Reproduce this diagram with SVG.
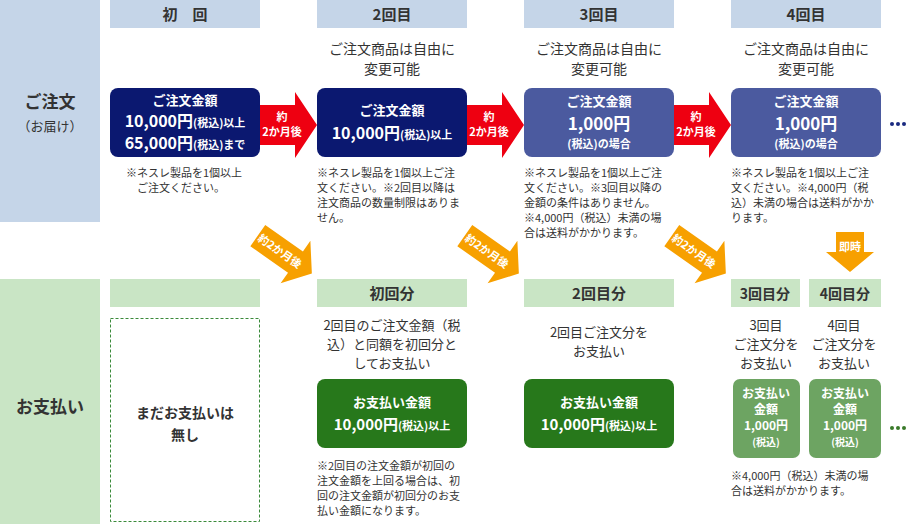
<svg xmlns="http://www.w3.org/2000/svg" width="909" height="524" viewBox="0 0 909 524">
<style>
text{font-family:"Noto Sans CJK JP","Noto Sans",sans-serif;text-anchor:middle}
.hb{fill:#c5d5e8}.hg{fill:#c9e5c5}
.ht{font-size:15px;font-weight:bold;fill:#333}
.d{font-size:14px;fill:#333}
.n{font-size:11px;fill:#333;text-anchor:start}
.w{fill:#fff;font-weight:bold}
.ra{fill:#ee0011}.oa{fill:#f7a000}
</style>
<defs>
<polygon id="ra" points="0,-20 35,-20 35,-33 57,0 35,33 35,20 0,20"/>
<polygon id="oa" points="-32,-13 14,-13 14,-26 34,0 14,26 14,13 -32,13"/>
</defs>
<rect x="0" y="0" width="100" height="222" class="hb"/>
<rect x="0" y="279" width="100" height="245" class="hg"/>
<text x="50" y="108" style="font-size:17px;font-weight:bold;fill:#333">ご注文</text>
<text x="50" y="131" style="font-size:13px;fill:#333">（お届け）</text>
<text x="50" y="413" style="font-size:17px;font-weight:bold;fill:#333">お支払い</text>

<g id="headers">
<rect x="110" y="0" width="150" height="28" class="hb"/><text x="185" y="20" class="ht">初　回</text>
<rect x="317" y="0" width="150" height="28" class="hb"/><text x="392" y="20" class="ht">2回目</text>
<rect x="524" y="0" width="150" height="28" class="hb"/><text x="599" y="20" class="ht">3回目</text>
<rect x="731" y="0" width="150" height="28" class="hb"/><text x="806" y="20" class="ht">4回目</text>
<rect x="110" y="279" width="150" height="28" class="hg"/>
<rect x="317" y="279" width="150" height="28" class="hg"/><text x="392" y="299" class="ht">初回分</text>
<rect x="524" y="279" width="150" height="28" class="hg"/><text x="599" y="299" class="ht">2回目分</text>
<rect x="731" y="279" width="69" height="28" class="hg"/><text x="765" y="299" class="ht" style="font-size:14px">3回目分</text>
<rect x="809" y="279" width="72" height="28" class="hg"/><text x="845" y="299" class="ht" style="font-size:14px">4回目分</text>
</g>

<g id="desc">
<text x="392" y="54" class="d">ご注文商品は自由に</text><text x="392" y="74" class="d">変更可能</text>
<text x="599" y="54" class="d">ご注文商品は自由に</text><text x="599" y="74" class="d">変更可能</text>
<text x="806" y="54" class="d">ご注文商品は自由に</text><text x="806" y="74" class="d">変更可能</text>
</g>

<g id="o1"><rect x="110" y="88" width="150" height="69" rx="8" fill="#0b1870"/>
<text x="185" y="105" class="w" style="font-size:13px">ご注文金額</text>
<text x="185" y="127" class="w" style="font-size:16px">10,000円<tspan style="font-size:11px">(税込)以上</tspan></text>
<text x="185" y="149" class="w" style="font-size:16px">65,000円<tspan style="font-size:11px">(税込)まで</tspan></text></g>
<g id="o2"><rect x="317" y="88" width="150" height="69" rx="8" fill="#0b1870"/>
<text x="392" y="115" class="w" style="font-size:13px">ご注文金額</text>
<text x="392" y="139" class="w" style="font-size:16px">10,000円<tspan style="font-size:11px">(税込)以上</tspan></text></g>
<g id="o3"><rect x="524" y="88" width="150" height="69" rx="8" fill="#4b5a9f"/>
<text x="599" y="106" class="w" style="font-size:13px">ご注文金額</text>
<text x="599" y="130" class="w" style="font-size:17px">1,000円</text>
<text x="599" y="148" class="w" style="font-size:11px">(税込)の場合</text></g>
<g id="o4"><rect x="731" y="88" width="150" height="69" rx="8" fill="#4b5a9f"/>
<text x="806" y="106" class="w" style="font-size:13px">ご注文金額</text>
<text x="806" y="130" class="w" style="font-size:17px">1,000円</text>
<text x="806" y="148" class="w" style="font-size:11px">(税込)の場合</text></g>
<g fill="#1a2a80"><circle cx="892" cy="124" r="2"/><circle cx="898" cy="124" r="2"/><circle cx="904" cy="124" r="2"/></g>

<g id="notes">
<text class="n" x="126" y="177">※ネスレ製品を1個以上</text><text class="n" x="137" y="192">ご注文ください。</text>
<text class="n" x="317" y="177">※ネスレ製品を1個以上ご注</text><text class="n" x="317" y="192">文ください。※2回目以降は</text><text class="n" x="317" y="207">注文商品の数量制限はありま</text><text class="n" x="317" y="222">せん。</text>
<text class="n" x="524" y="177">※ネスレ製品を1個以上ご注</text><text class="n" x="524" y="192">文ください。※3回目以降の</text><text class="n" x="524" y="207">金額の条件はありません。</text><text class="n" x="524" y="222">※4,000円（税込）未満の場</text><text class="n" x="524" y="237">合は送料がかかります。</text>
<text class="n" x="731" y="177">※ネスレ製品を1個以上ご注</text><text class="n" x="731" y="192">文ください。※4,000円（税</text><text class="n" x="731" y="207">込）未満の場合は送料がかか</text><text class="n" x="731" y="222">ります。</text>
</g>

<g id="connectors">
<use href="#ra" class="ra" x="260" y="125"/><text x="282" y="121" class="w" style="font-size:11px">約</text><text x="282" y="136" class="w" style="font-size:11px">2か月後</text>
<use href="#ra" class="ra" x="467" y="125"/><text x="489" y="121" class="w" style="font-size:11px">約</text><text x="489" y="136" class="w" style="font-size:11px">2か月後</text>
<use href="#ra" class="ra" x="674" y="125"/><text x="696" y="121" class="w" style="font-size:11px">約</text><text x="696" y="136" class="w" style="font-size:11px">2か月後</text>
<g transform="translate(284,254) rotate(35)"><use href="#oa" class="oa"/><text x="-5" y="4" class="w" style="font-size:11px">約2か月後</text></g>
<g transform="translate(491,254) rotate(35)"><use href="#oa" class="oa"/><text x="-5" y="4" class="w" style="font-size:11px">約2か月後</text></g>
<g transform="translate(698,254) rotate(35)"><use href="#oa" class="oa"/><text x="-5" y="4" class="w" style="font-size:11px">約2か月後</text></g>
<polygon points="836,232 864,232 864,252 874,252 850,272 826,252 836,252" class="oa"/>
<text x="850" y="251" class="w" style="font-size:11px">即時</text>
</g>

<g id="p1"><rect x="110.5" y="318.5" width="149" height="203" fill="none" stroke="#3a8a3a" stroke-dasharray="3,2"/>
<text x="185" y="418" style="font-size:14px;font-weight:bold;fill:#333">まだお支払いは</text><text x="185" y="440" style="font-size:14px;font-weight:bold;fill:#333">無し</text></g>

<text x="392" y="330" class="d" style="font-size:13px">2回目のご注文金額（税</text><text x="392" y="349" class="d" style="font-size:13px">込）と同額を初回分と</text><text x="392" y="368" class="d" style="font-size:13px">してお支払い</text>
<text x="599" y="337" class="d" style="font-size:13px">2回目ご注文分を</text><text x="599" y="356" class="d" style="font-size:13px">お支払い</text>
<text x="766" y="330" class="d" style="font-size:13px">3回目</text><text x="766" y="349" class="d" style="font-size:13px">ご注文分を</text><text x="766" y="368" class="d" style="font-size:13px">お支払い</text>
<text x="844" y="330" class="d" style="font-size:13px">4回目</text><text x="844" y="349" class="d" style="font-size:13px">ご注文分を</text><text x="844" y="368" class="d" style="font-size:13px">お支払い</text>

<g id="p2"><rect x="317" y="379" width="150" height="69" rx="8" fill="#27781b"/>
<text x="392" y="407" class="w" style="font-size:13px">お支払い金額</text>
<text x="392" y="430" class="w" style="font-size:15px">10,000円<tspan style="font-size:11px">(税込)以上</tspan></text></g>
<g id="p3"><rect x="524" y="379" width="150" height="69" rx="8" fill="#27781b"/>
<text x="599" y="407" class="w" style="font-size:13px">お支払い金額</text>
<text x="599" y="430" class="w" style="font-size:15px">10,000円<tspan style="font-size:11px">(税込)以上</tspan></text></g>
<g id="p4"><rect x="733" y="379" width="67" height="79" rx="7" fill="#6da462"/>
<text x="766" y="398" class="w" style="font-size:12px">お支払い</text><text x="766" y="414" class="w" style="font-size:12px">金額</text><text x="766" y="430" class="w" style="font-size:12px">1,000円</text><text x="766" y="446" class="w" style="font-size:10px">(税込)</text></g>
<g id="p5"><rect x="809" y="379" width="72" height="79" rx="7" fill="#6da462"/>
<text x="845" y="398" class="w" style="font-size:12px">お支払い</text><text x="845" y="414" class="w" style="font-size:12px">金額</text><text x="845" y="430" class="w" style="font-size:12px">1,000円</text><text x="845" y="446" class="w" style="font-size:10px">(税込)</text></g>
<g fill="#3a7a2a"><circle cx="892" cy="428" r="2"/><circle cx="898" cy="428" r="2"/><circle cx="904" cy="428" r="2"/></g>

<text class="n" x="317" y="470">※2回目の注文金額が初回の</text><text class="n" x="317" y="485">注文金額を上回る場合は、初</text><text class="n" x="317" y="500">回の注文金額が初回分のお支</text><text class="n" x="317" y="515">払い金額になります。</text>
<text class="n" x="731" y="480">※4,000円（税込）未満の場</text><text class="n" x="731" y="495">合は送料がかかります。</text>
</svg>
